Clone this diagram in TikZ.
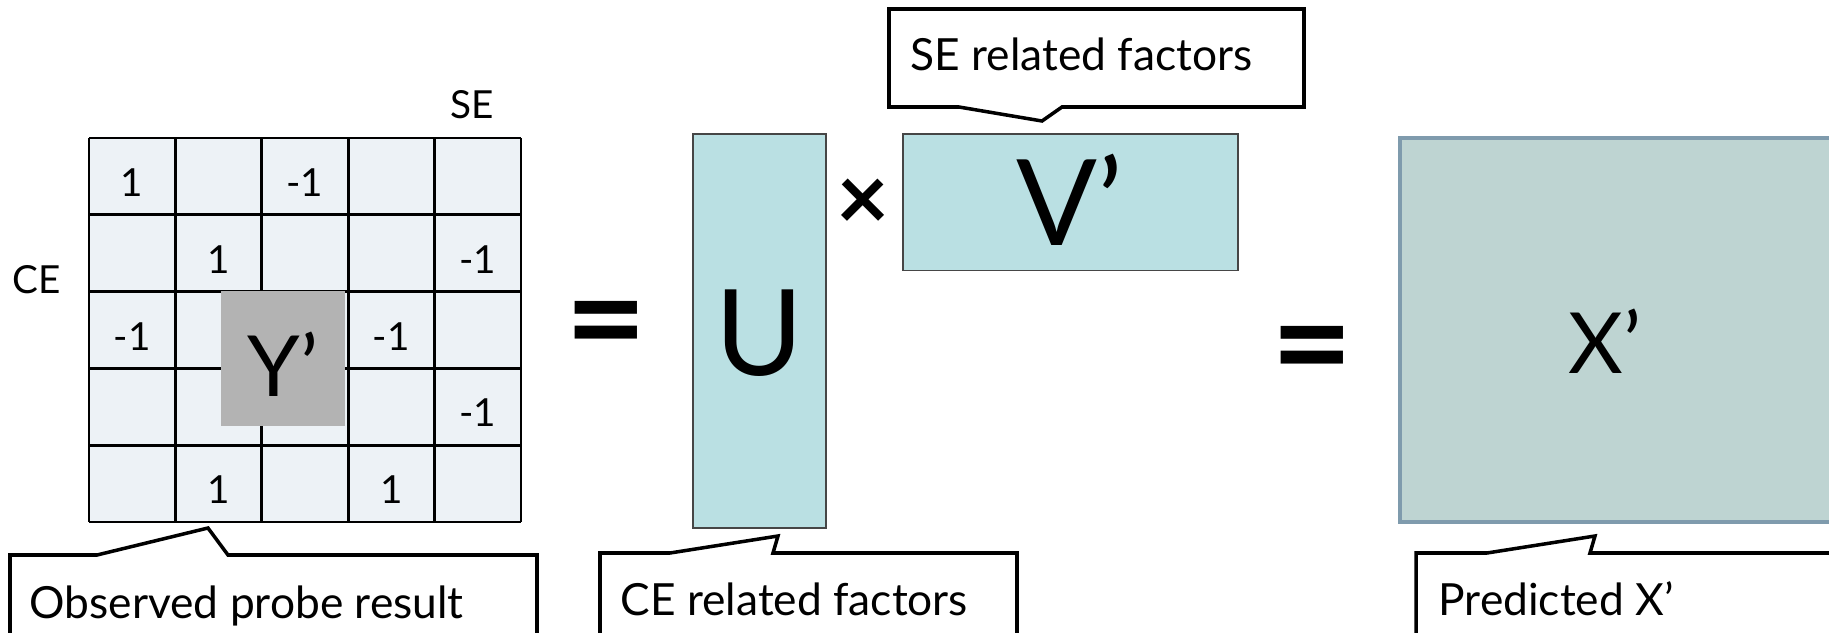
\documentclass[tikz,border=0pt]{standalone}
\usepackage{fontspec}
\setmainfont{Lato}
\definecolor{gridfill}{RGB}{237,242,246}
\definecolor{ygray}{RGB}{179,179,179}
\definecolor{factorfill}{RGB}{186,224,227}
\definecolor{factorline}{RGB}{70,70,70}
\definecolor{xfill}{RGB}{190,212,210}
\definecolor{xline}{RGB}{127,155,173}

\begin{document}
\begin{tikzpicture}[x=0.01cm, y=-0.01cm,
  cellnum/.style={anchor=base, font=\fontsize{11}{13}\selectfont},
  callout/.style={draw=black, line width=1pt, fill=white, line join=miter},
  calltext/.style={anchor=base west, inner sep=0pt, font=\fontsize{12.6}{15}\selectfont},
  factor/.style={fill=factorfill, draw=factorline, line width=0.4pt},
  bigletter/.style={anchor=base, font=\fontsize{34}{38}\selectfont},
  midletter/.style={anchor=base, font=\fontsize{24}{28}\selectfont}]

\clip (0,0) rectangle (1829,633);

% observed matrix
\fill[gridfill] (89,138) rectangle (521,522);
\foreach \i in {0,...,5} {
  \draw[line width=0.75pt] ({89+86.4*\i},138) -- ({89+86.4*\i},522);
  \draw[line width=0.75pt] (89,{138+76.8*\i}) -- (521,{138+76.8*\i});
}
\foreach \r/\c/\v in {1/1/1, 1/3/-1, 2/2/1, 2/5/-1, 3/1/-1, 3/4/-1, 4/5/-1, 5/2/1, 5/4/1}
  \node[cellnum] at ({89+86.4*(\c-0.5)}, {138+76.8*(\r-0.5)+20}) (v\r\c) {\v};

\fill[ygray] (220.5,290.5) rectangle (345.3,425.8);
\node[midletter] at (283,396) (yp) {Y’};

\node[cellnum] at (472,118) (se) {SE};
\node[cellnum] at (37,293) (ce) {CE};

\node[font=\fontsize{40}{44}\selectfont\bfseries] at (606,334) (eq1) {=};

% factors
\draw[factor] (693,134) rectangle (826,528);
\node[bigletter] at (759.5,375) (u) {U};
\node[font=\fontsize{26}{30}\selectfont\bfseries] at (863,205) (times) {×};
\draw[factor] (903,134) rectangle (1238,270.6);
\node[bigletter] at (1070,245) (v) {V’};

\node[font=\fontsize{40}{44}\selectfont\bfseries] at (1312,359) (eq2) {=};

% prediction
\draw[fill=xfill, draw=xline, line width=1pt] (1400,138) rectangle (1850,522);
\node[midletter] at (1605,373) (x) {X’};

% callouts
\draw[callout] (10,555) -- (97,555) -- (208,528) -- (228,555) -- (537,555) -- (537,660) -- (10,660) -- cycle;
\node[calltext] at (29,618) (obs) {Observed probe result};

\draw[callout] (889,9) -- (1304,9) -- (1304,107) -- (1062,107) -- (1042,121) -- (959,107) -- (889,107) -- cycle;
\node[calltext] at (910,70) (sef) {SE related factors};

\draw[callout] (600,553) -- (670,553) -- (778,536) -- (773,553) -- (1017,553) -- (1017,660) -- (600,660) -- cycle;
\node[calltext] at (620,615) (cef) {CE related factors};

\draw[callout] (1416,553) -- (1487,553) -- (1595,536) -- (1590,553) -- (1850,553) -- (1850,660) -- (1416,660) -- cycle;
\node[calltext] at (1438,615) (pred) {Predicted X’};

\end{tikzpicture}
\end{document}
